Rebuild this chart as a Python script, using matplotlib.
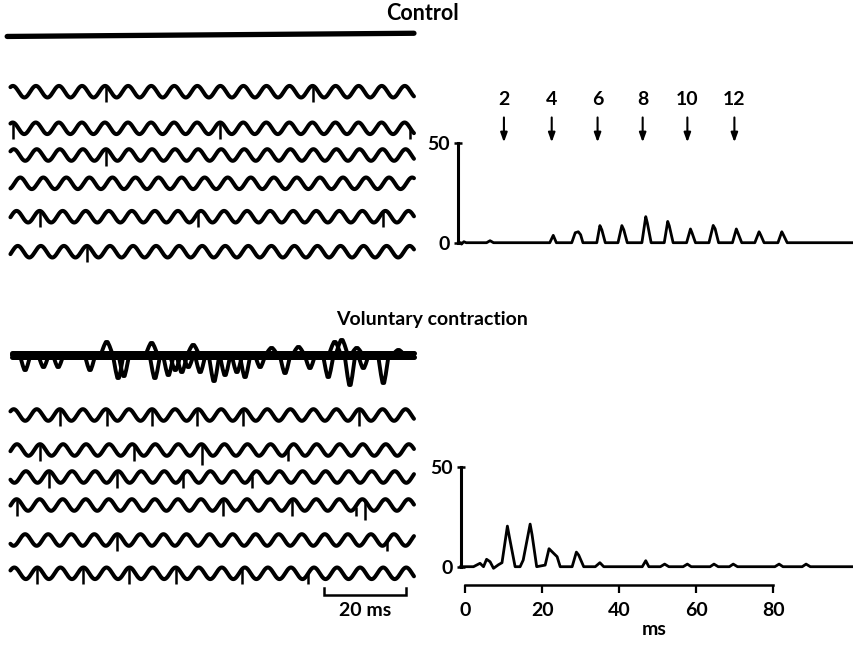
import numpy as np
import matplotlib
matplotlib.use("Agg")
import matplotlib.pyplot as plt

# ---------------- data ----------------
# timing sinusoid period (ms) of the traces
wave_period = 5.65
# time (ms) of a crest in each sweep (phase), and unit spike times (ms)
control_crest = [1.2, 1.15, 1.4, 3.0, 2.1, 2.4]
control_spikes = [
    [24.0, 74.8],
    [1.15, 52.0, 98.5],
    [24.0],
    [],
    [7.8, 46.6, 92.0],
    [19.4],
]
vol_crest = [1.4, 2.2, 4.4, 2.1, 4.2, 1.55]
vol_spikes = [
    [12.7, 24.2, 35.2, 46.4, 57.7, 86.1],
    [7.8, 31.0, 47.6, 68.7],
    [10.1, 26.6, 43.0, 59.7],
    [2.1, 52.7, 69.5, 85.2, 87.5],
    [26.8, 92.8],
    [7.2, 18.5, 29.7, 41.1, 57.3, 73.6],
]
vol_long_spikes = [[], [47.6], [], [87.5], [], []]

# EMG deflections during voluntary contraction: time (ms), amplitude
emg_t = [4.2, 8.7, 12.3, 20.1, 24.2, 27.0, 28.4, 35.2, 36.0, 39.3, 41.0, 42.6,
         44.2, 45.4, 47.1, 50.5, 53.2, 56.1, 58.1, 61.8, 64.6, 67.9, 71.2, 74.0,
         78.5, 80.1, 81.8, 83.8, 85.5, 87.1, 92.0, 95.7]
emg_a = [-15, -12, -12, -15, 13, -23, -21, 12, -23, -20, -15, -17,
         -12, 10, -17, -26, -20, -17, -22, -12, 7, -18, 8, -13,
         -22, 13, 15, -30, 7, -13, -28, 5]

# histograms: latency (ms) vs count
ctrl_hist_x = [-1.74, -1.1, -0.9, -0.3, 0.3, 5.6, 6.5, 7.4, 22.0, 22.9, 23.7,
               27.7, 28.6, 29.4, 30.0, 30.6, 34.2, 35.0, 35.5, 36.4,
               39.7, 40.7, 41.2, 42.1, 45.9, 46.9, 47.3, 48.3,
               51.7, 52.6, 53.0, 54.0, 57.5, 58.5, 58.9, 59.8,
               63.3, 64.4, 64.9, 65.8, 69.4, 70.4, 70.8, 71.8,
               75.2, 76.3, 76.7, 77.6, 81.2, 82.2, 82.6, 83.6, 100.7]
ctrl_hist_y = [0, 0, -0.7, 0.5, 0, 0, 1.0, 0, 0, 3.7, 0,
               0, 5.0, 5.5, 4.0, 0, 0, 8.6, 6.5, 0,
               0, 8.6, 6.5, 0, 0, 13.1, 10.0, 0,
               0, 10.7, 8.5, 0, 0, 6.9, 5.0, 0,
               0, 8.7, 7.0, 0, 0, 6.9, 5.0, 0,
               0, 5.5, 4.0, 0, 0, 5.5, 4.0, 0, 0]
vol_hist_x = [-1.1, 2.2, 3.9, 4.8, 5.6, 6.5, 7.4, 8.7, 9.6, 11.0, 11.5, 13.0,
              14.3, 15.1, 16.9, 17.4, 18.6, 20.8, 21.8, 23.0, 23.9, 24.7,
              27.8, 28.9, 29.5, 30.8, 33.8, 35.0, 36.0, 46.0, 46.9, 47.7,
              50.7, 51.8, 52.9, 56.6, 57.7, 58.7, 63.6, 64.6, 65.7,
              68.6, 69.6, 70.7, 80.4, 81.5, 82.5, 87.5, 88.5, 89.6, 100.9]
vol_hist_y = [0, 0, 1.7, 0, 3.7, 2.5, -0.8, 1.0, 2.0, 20.3, 15.0, 0,
              0, 3.3, 21.3, 16.0, 0, 0.8, 9.0, 6.7, 5.0, 0,
              0, 7.3, 5.8, 0, 0, 2.0, 0, 0, 3.0, 0,
              0, 1.3, 0, 0, 1.3, 0, 0, 1.3, 0,
              0, 1.3, 0, 0, 1.3, 0, 0, 1.3, 0, 0]

arrow_ms = [10.1, 22.5, 34.4, 46.1, 57.7, 69.9]
arrow_labels = ["2", "4", "6", "8", "10", "12"]
x_ticks = [0, 20, 40, 60, 80]
y_ticks = [0, 50]

# ---------------- layout ----------------
W, H = 854, 646
fig = plt.figure(figsize=(W / 100, H / 100), dpi=100)
FONT = "Lato"
NUM_FS = 14


def px_axes(x0, y0, x1, y1):
    ax = fig.add_axes([x0 / W, 1 - y1 / H, (x1 - x0) / W, (y1 - y0) / H])
    ax.set_axis_off()
    return ax


# trace column: t=0 at 8 px, 4.08 px per ms
T0, TS = 8.0, 4.08
TXLIM = (-T0 / TS, (430 - T0) / TS)
AMP_PX = 5.8  # wave amplitude in pixels
LW_WAVE = 2.9


def trace_axes(yc, half=20):
    ax = px_axes(0, yc - half, 430, yc + half)
    ax.set_xlim(*TXLIM)
    ax.set_ylim(-half / AMP_PX, half / AMP_PX)
    return ax


def draw_sweep(yc, crest, spikes, long_spikes=()):
    ax = trace_axes(yc)
    t = np.linspace(0.6, 99.5, 1200)
    w = np.cos(2 * np.pi * (t - crest) / wave_period)
    ax.plot(t, w, color="black", lw=LW_WAVE, solid_capstyle="round")
    for s in spikes:
        top = np.cos(2 * np.pi * (s - crest) / wave_period)
        bottom = -2.6 if s in long_spikes else -1.85
        ax.plot([s, s], [top, bottom], color="black", lw=1.8,
                solid_capstyle="butt")
    return ax


# Control flat sweep
ax0 = trace_axes(35)
ax0.plot([-0.2, 99.5], [-0.25, 0.3], color="black", lw=3.8,
         solid_capstyle="round")

ctrl_rows = [91.7, 128.3, 155, 183.3, 216.7, 251.7]
for yc, c, sp in zip(ctrl_rows, control_crest, control_spikes):
    draw_sweep(yc, c, sp)

# Voluntary contraction EMG sweep (superimposed sweeps)
axe = px_axes(0, 320, 430, 390)
axe.set_xlim(*TXLIM)
axe.set_ylim(-35, 35)
axe.plot([1.0, 99.5], [1.8, 1.8], color="black", lw=3.6, solid_capstyle="round")
axe.plot([1.0, 99.5], [-2.2, -2.2], color="black", lw=3.6, solid_capstyle="round")
axe.plot([1.0, 99.5], [0, 0], color="black", lw=3.0, solid_capstyle="round")
for i, (tt, a) in enumerate(zip(emg_t, emg_a)):
    hw = 1.3 if a < 0 else 1.5
    xs = [tt - hw, tt - 0.45 * hw, tt - 0.15 * hw, tt + 0.15 * hw,
          tt + 0.45 * hw, tt + hw]
    ys = [0, 0.7 * a, a, a, 0.7 * a, 0]
    axe.plot(xs, ys, color="black", lw=2.8, solid_joinstyle="round",
             solid_capstyle="round")

vol_rows = [415, 450, 477, 505, 540, 573.3]
for yc, c, sp, ls in zip(vol_rows, vol_crest, vol_spikes, vol_long_spikes):
    draw_sweep(yc, c, sp, ls)

# 20 ms scale bar
axs = px_axes(0, 580, 430, 625)
axs.set_xlim(*TXLIM)
axs.set_ylim(45, 0)
axs.plot([77.5, 77.5, 97.5, 97.5], [8, 15, 15, 8], color="black", lw=1.8,
         solid_joinstyle="miter")
axs.text(87.5, 30, "20 ms", ha="center", va="center", fontsize=NUM_FS,
         family=FONT, weight="bold")

# titles
fig.text(423 / W, 1 - 13 / H, "Control", ha="center", va="center",
         fontsize=15.5, family=FONT, weight="bold")
fig.text(432 / W, 1 - 320 / H, "Voluntary contraction", ha="center",
         va="center", fontsize=14, family=FONT, weight="bold")

# ---------------- histograms ----------------
HX0, HS = 465.0, 3.854
HXLIM = ((455 - HX0) / HS, (854 - HX0) / HS)


def style_hist(ax, spine_x):
    ax.set_axis_on()
    for s in ["top", "right", "bottom"]:
        ax.spines[s].set_visible(False)
    ax.spines["left"].set_position(("data", spine_x))
    ax.spines["left"].set_bounds(0, 50)
    ax.spines["left"].set_linewidth(2.2)
    ax.set_yticks(y_ticks)
    ax.set_yticklabels([str(v) for v in y_ticks], family=FONT,
                       weight="bold", fontsize=NUM_FS)
    ax.tick_params(axis="y", direction="inout", length=6, width=1.8, pad=3)
    ax.patch.set_visible(False)


# control histogram: 0 at y=242.7 px, 1.988 px per count
axh1 = px_axes(455, 85, 854, 255)
axh1.set_xlim(*HXLIM)
axh1.set_ylim((242.7 - 255) / 1.988, (242.7 - 85) / 1.988)
axh1.plot(ctrl_hist_x, ctrl_hist_y, color="black", lw=2.0,
          solid_joinstyle="round")
style_hist(axh1, -1.74)
axh1.set_xticks([])
for xm, lab in zip(arrow_ms, arrow_labels):
    axh1.annotate("", xy=(xm, 50.5), xytext=(xm, 63.0),
                  arrowprops=dict(arrowstyle="-|>,head_length=0.55,head_width=0.2",
                                  color="black", lw=1.5, shrinkA=0, shrinkB=0))
    axh1.text(xm, 72.0, lab, ha="center", va="center", fontsize=NUM_FS,
              family=FONT, weight="bold")

# voluntary histogram: 0 at y=566.7 px, 2.0 px per count
axh2 = px_axes(455, 455, 854, 646)
axh2.set_xlim(*HXLIM)
axh2.set_ylim((566.7 - 646) / 2.0, (566.7 - 455) / 2.0)
axh2.plot(vol_hist_x, vol_hist_y, color="black", lw=2.0,
          solid_joinstyle="round")
style_hist(axh2, -1.1)
axh2.spines["bottom"].set_visible(True)
axh2.spines["bottom"].set_position(("data", (566.7 - 585) / 2.0))
axh2.spines["bottom"].set_bounds(0, 80)
axh2.spines["bottom"].set_linewidth(1.8)
axh2.set_xticks(x_ticks)
axh2.set_xticklabels([str(v) for v in x_ticks], family=FONT, weight="bold",
                     fontsize=NUM_FS)
axh2.tick_params(axis="x", direction="out", length=6, width=1.6, pad=6)
axh2.set_xlabel("ms", family=FONT, weight="bold", fontsize=NUM_FS, labelpad=2)

fig.savefig("out.png", dpi=100)
